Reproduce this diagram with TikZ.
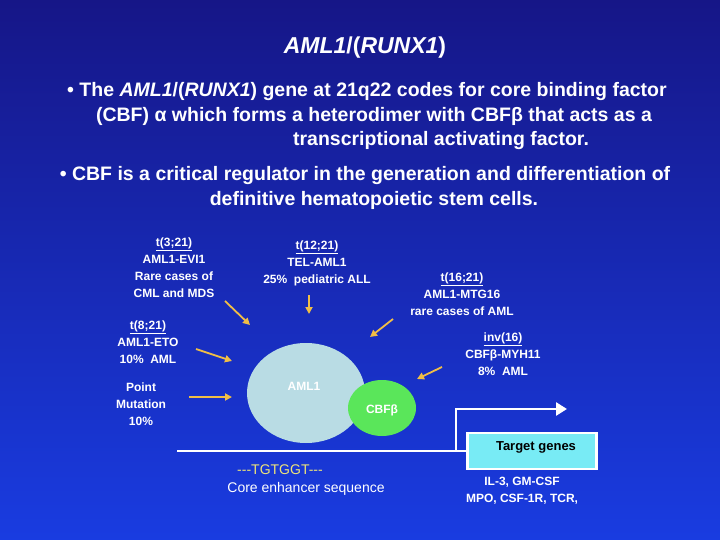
\documentclass[tikz,border=0pt]{standalone}
\usepackage{fontspec}
\setmainfont{Liberation Sans}
\usetikzlibrary{arrows.meta}
\definecolor{bgtop}{RGB}{22,22,135}
\definecolor{bgbot}{RGB}{25,60,225}
\definecolor{arr}{RGB}{240,190,70}
\definecolor{ylw}{RGB}{240,230,120}
\definecolor{ltb}{RGB}{185,220,228}
\definecolor{grn}{RGB}{90,230,90}
\definecolor{cyanbox}{RGB}{120,235,245}
\begin{document}
\begin{tikzpicture}[x=1pt,y=-1pt,
  txt/.style={text=white,font=\bfseries\fontsize{19.5}{22}\selectfont,inner sep=0},
  lab/.style={text=white,font=\bfseries\fontsize{12}{17}\selectfont,align=center,inner sep=0},
  yarr/.style={draw=arr,line width=1.8pt,-{Triangle[length=7pt,width=7pt]}}]
\shade[top color=bgtop,bottom color=bgbot] (0,0) rectangle (720,540);
\useasboundingbox (0,0) rectangle (720,540);
\node[text=white,font=\bfseries\fontsize{23}{26}\selectfont,inner sep=0] (title) at (365,48) {\textit{AML1}/(\textit{RUNX1})};
\node[txt] (b1) at (367,92) {• The \textit{AML1}/(\textit{RUNX1}) gene at 21q22 codes for core binding factor};
\node[txt] (b2) at (374,116) {(CBF) α which forms a heterodimer with CBFβ that acts as a};
\node[txt] (b3) at (441,141) {transcriptional activating factor.};
\node[txt] (b4) at (365,176) {• CBF is a critical regulator in the generation and differentiation of};
\node[txt] (b5) at (374,200) {definitive hematopoietic stem cells.};
% ellipses
\fill[ltb] (306,393) ellipse [x radius=59,y radius=50];
\fill[grn] (382,408) ellipse [x radius=34,y radius=28];
\node[lab] (amll) at (304,386) {AML1};
\node[lab] (cbf) at (382,410) {CBFβ};
% DNA line and promoter arrow
\coordinate (l0) at (177,451);
\coordinate (l1) at (456,451);
\coordinate (l2) at (456,409);
\coordinate (l3) at (567,409);
\draw[white,line width=2.6pt] (l0) -- (470,451);
\draw[white,line width=2.6pt,-{Triangle[length=11pt,width=13pt]}] (l1) -- (l2) -- (l3);
\node[draw=white,line width=2.5pt,fill=cyanbox,minimum width=129,minimum height=36,inner sep=0] (tg) at (532,451) {};
\node[font=\bfseries\fontsize{13}{15}\selectfont,inner sep=0] (tgl) at (536,447) {Target genes};
\node[text=ylw,font=\fontsize{14}{16}\selectfont,inner sep=0] (seq) at (280,470) {-{}-{}-TGTGGT-{}-{}-};
\node[text=white,font=\fontsize{14}{16}\selectfont,inner sep=0] (core) at (306,489) {Core enhancer sequence};
\node[lab] (genes) at (522,491) {IL-3, GM-CSF\\MPO, CSF-1R, TCR,};
% labels
\node[lab] (t321) at (174,268) {\underline{t(3;21)}\\AML1-EVI1\\Rare cases of\\CML and MDS};
\node[lab] (t1221) at (317,263) {\underline{t(12;21)}\\TEL-AML1\\25\%\ \ pediatric ALL};
\node[lab] (t1621) at (462,294) {\underline{t(16;21)}\\AML1-MTG16\\rare cases of AML};
\node[lab] (t821) at (148,342) {\underline{t(8;21)}\\AML1-ETO\\10\%\ \ AML};
\node[lab] (inv) at (503,354) {\underline{inv(16)}\\CBFβ-MYH11\\8\%\ \ AML};
\node[lab] (pm) at (141,404) {Point\\Mutation\\10\%};
% arrows
\draw[yarr] (225,301) -- (250,325);
\draw[yarr] (309,295) -- (309,314);
\draw[yarr] (393,319) -- (370,337);
\draw[yarr] (196,349) -- (232,361);
\draw[yarr] (189,397) -- (232,397);
\draw[yarr] (442,367) -- (417,379);
\end{tikzpicture}
\end{document}
